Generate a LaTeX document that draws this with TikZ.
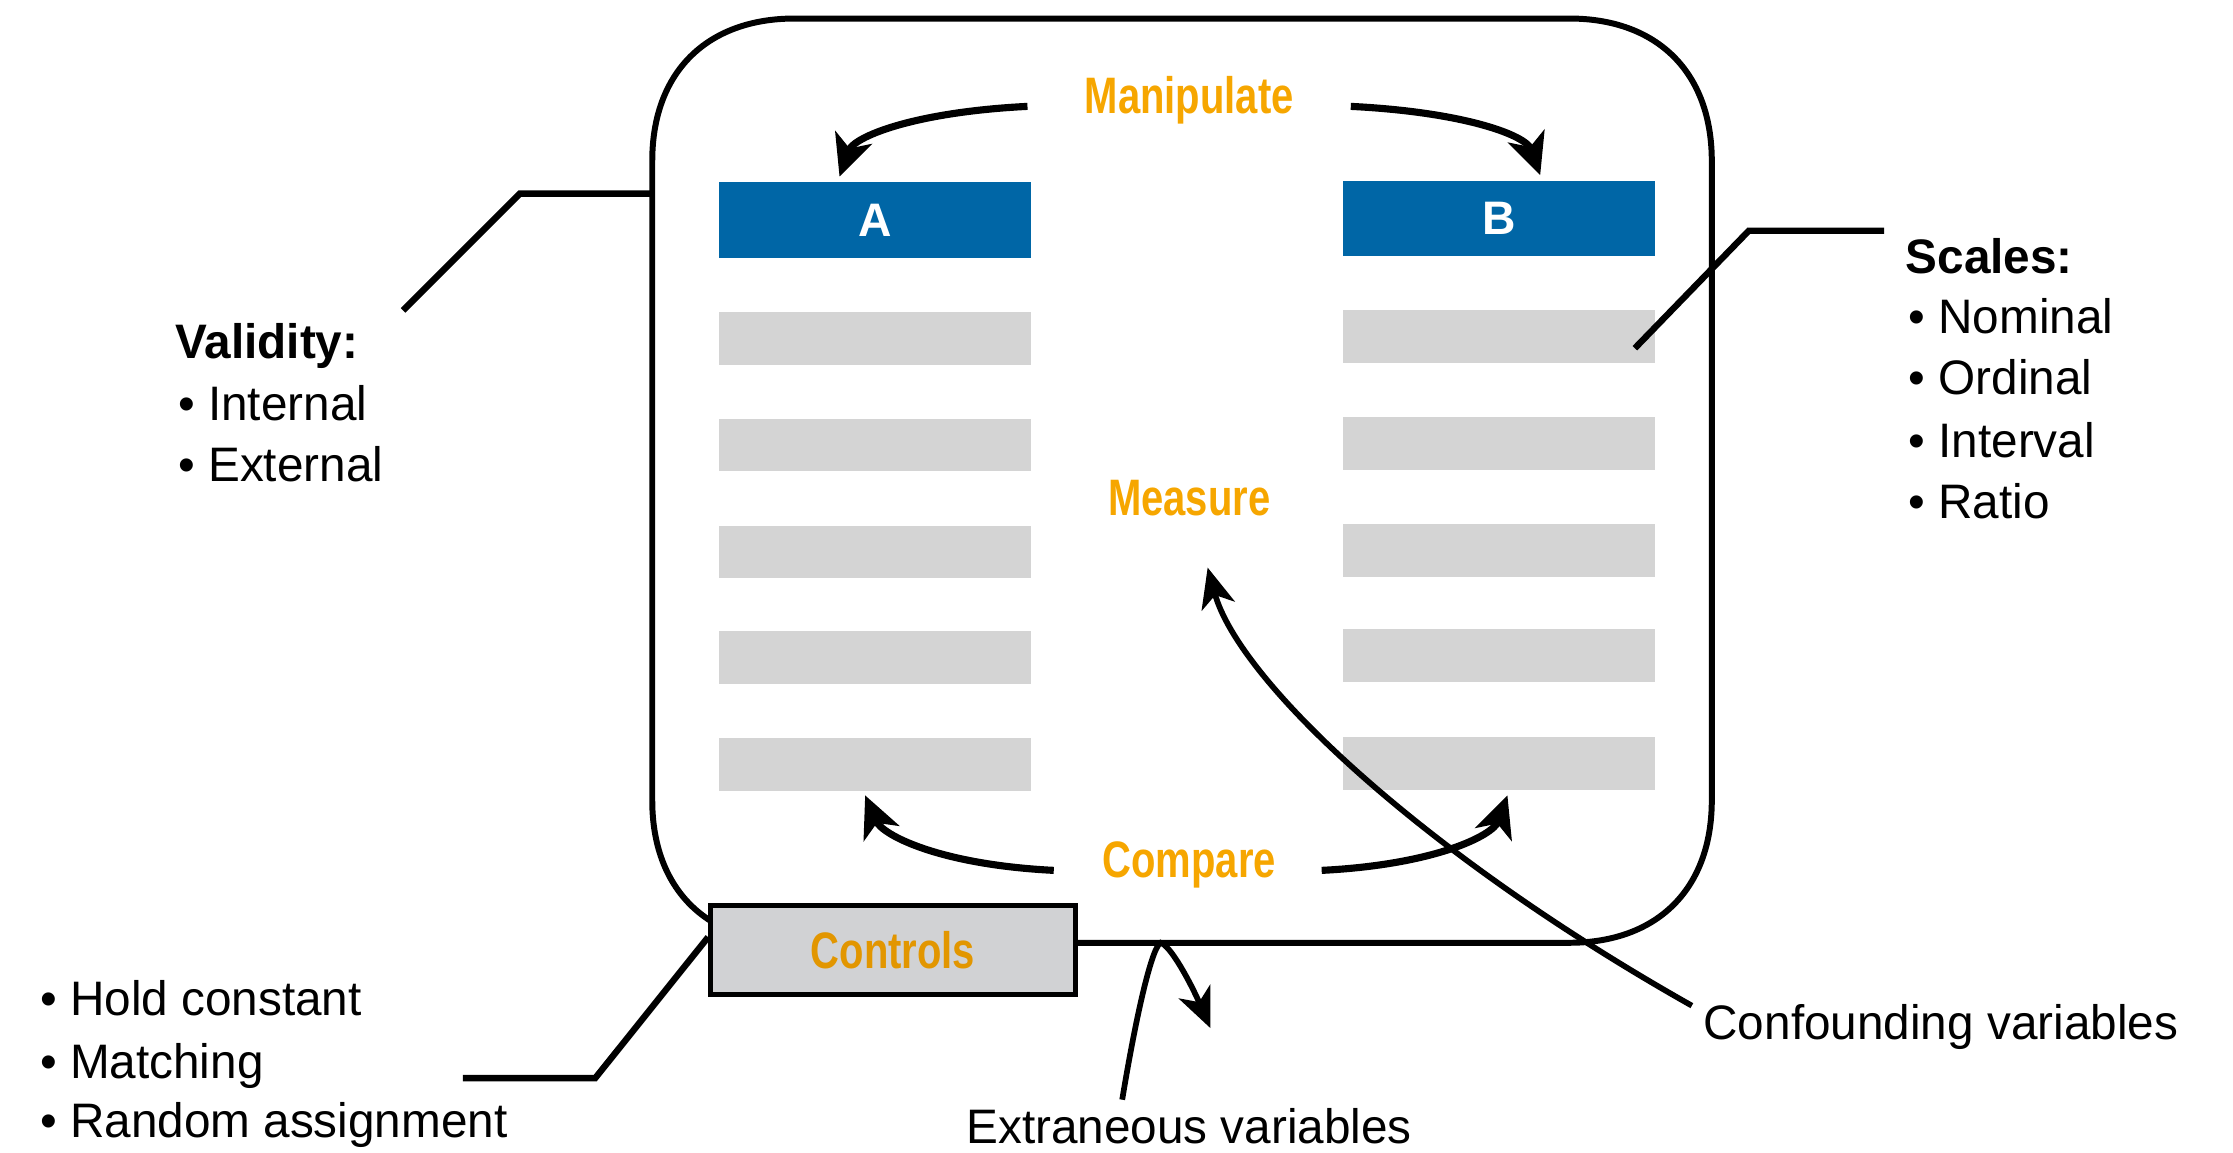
\documentclass[tikz,border=0pt]{standalone}
\usepackage{fontspec}
\setmainfont[FakeStretch=0.985]{Liberation Sans}
\newfontfamily\condfont[FakeStretch=0.78]{Liberation Sans}
\usetikzlibrary{arrows.meta,calc}
\definecolor{hdrblue}{RGB}{0,102,166}
\definecolor{bargray}{RGB}{212,212,212}
\definecolor{ctrlgray}{RGB}{209,210,212}
\definecolor{orng}{RGB}{246,166,0}
\definecolor{orngdark}{RGB}{226,150,0}
\begin{document}
\begin{tikzpicture}[x=1pt,y=-1pt,
  hdr/.style={fill=hdrblue, text=white, font=\fontsize{33}{33}\selectfont\bfseries, minimum width=219, minimum height=53, inner sep=0, outer sep=0},
  bar/.style={fill=bargray, minimum width=219, minimum height=37, inner sep=0, outer sep=0},
  olabel/.style={text=orng, font=\condfont\fontsize{36}{36}\selectfont\bfseries, inner sep=0, anchor=base},
  txt/.style={font=\fontsize{34}{40}\selectfont, inner sep=0, anchor=base west},
  btxt/.style={font=\fontsize{34}{40}\selectfont\bfseries, inner sep=0, anchor=base west},
  frameline/.style={line width=4.2pt},
  conn/.style={line width=4.5pt},
  bigarr/.style={line width=5pt, -{Stealth[length=29pt,width=27pt,inset=8pt]}},
  thinarr/.style={line width=4pt, -{Stealth[length=28pt,width=24pt,inset=8pt]}}
]
\useasboundingbox (0,0) rectangle (1568,809);
% frame
\node[minimum width=744, minimum height=649, inner sep=0, draw=none] (frame) at (830,337.5) {};
\draw[frameline] (458,113) .. controls (458,51) and (496,13) .. (558,13) -- (1102,13)
  .. controls (1164,13) and (1202,51) .. (1202,113) -- (1202,562)
  .. controls (1202,624) and (1164,662) .. (1102,662) -- (558,662)
  .. controls (496,662) and (458,624) .. (458,562) -- cycle;
% headers
\node[hdr] (hA) at (614.5,154.5) {A};
\node[hdr] (hB) at (1052.5,153.5) {B};
% bars
\node[bar] (a1) at (614.5,237.5) {};
\node[bar] (a2) at (614.5,312.5) {};
\node[bar] (a3) at (614.5,387.5) {};
\node[bar] (a4) at (614.5,461.5) {};
\node[bar] (a5) at (614.5,537) {};
\node[bar] (b1) at (1052.5,236.5) {};
\node[bar] (b2) at (1052.5,311.5) {};
\node[bar] (b3) at (1052.5,386.5) {};
\node[bar] (b4) at (1052.5,460.5) {};
\node[bar] (b5) at (1052.5,536) {};
% orange labels
\node[olabel] (manip) at (835,80) {Manipulate};
\node[olabel] (meas) at (835,362) {Measure};
\node[olabel] (comp) at (835,616) {Compare};
% arrows
\draw[bigarr] ([shift={(-40,4)}]manip.west) .. controls +(-80,4) and +(10,-28) .. ([shift={(-25,-4)}]hA.north);
\draw[bigarr] ([shift={(40,4)}]manip.east) .. controls +(80,4) and +(-10,-28) .. ([shift={(29,-4)}]hB.north);
\draw[bigarr] ([shift={(-34,4)}]comp.west) .. controls +(-80,-4) and +(12,28) .. ([shift={(-7,3)}]a5.south);
\draw[bigarr] ([shift={(32,4)}]comp.east) .. controls +(80,-4) and +(-10,28) .. ([shift={(6,4)}]b5.south);
% side texts
\node[btxt] (val) at (123,252) {Validity:};
\node[txt] (val1) at (125,295) {• Internal};
\node[txt] (val2) at (125,338) {• External};
\node[btxt] (scl) at (1338,192) {Scales:};
\node[txt] (scl1) at (1340,234) {• Nominal};
\node[txt] (scl2) at (1340,277) {• Ordinal};
\node[txt] (scl3) at (1340,321) {• Interval};
\node[txt] (scl4) at (1340,364) {• Ratio};
\node[txt] (ct1) at (28,713) {• Hold constant};
\node[txt] (ct2) at (28,757) {• Matching};
\node[txt] (ct3) at (28,799) {• Random assignment};
\node[txt] (conf) at (1196,730) {Confounding variables};
\node[font=\fontsize{34}{40}\selectfont, inner sep=0, anchor=base] (ext) at (835,803) {Extraneous variables};
% connectors
\coordinate (valend) at (283,218);
\draw[conn] (valend) -- (365,136) -- (frame.west |- 0,136);
\coordinate (sclend) at (1323,162);
\draw[conn] ([shift={(-14,8)}]b1.east) -- (1228,162) -- (sclend);
% controls box
\node[draw, line width=3.5pt, fill=ctrlgray, minimum width=256, minimum height=62, inner sep=0, text=orngdark, font=\condfont\fontsize{36}{36}\selectfont\bfseries] (ctrl) at (627,667) {Controls};
\coordinate (ctlend) at (325,757);
\draw[conn] (ctlend) -- (418,757) -- ([yshift=9]ctrl.west);
% confounding arrow
\draw[thinarr] ([shift={(-8,1)}]conf.north west) .. controls +(-188,-106) and +(22,80) .. ([shift={(13,36)}]meas.south);
% extraneous arrow
\coordinate (expeak) at (815,662);
\coordinate (extip) at (850,722);
\draw[thinarr] ([shift={(-47,-6)}]ext.north) .. controls (800,700) and (810,664) .. (expeak) .. controls (822,664) and (836,690) .. (extip);
\end{tikzpicture}
\end{document}
